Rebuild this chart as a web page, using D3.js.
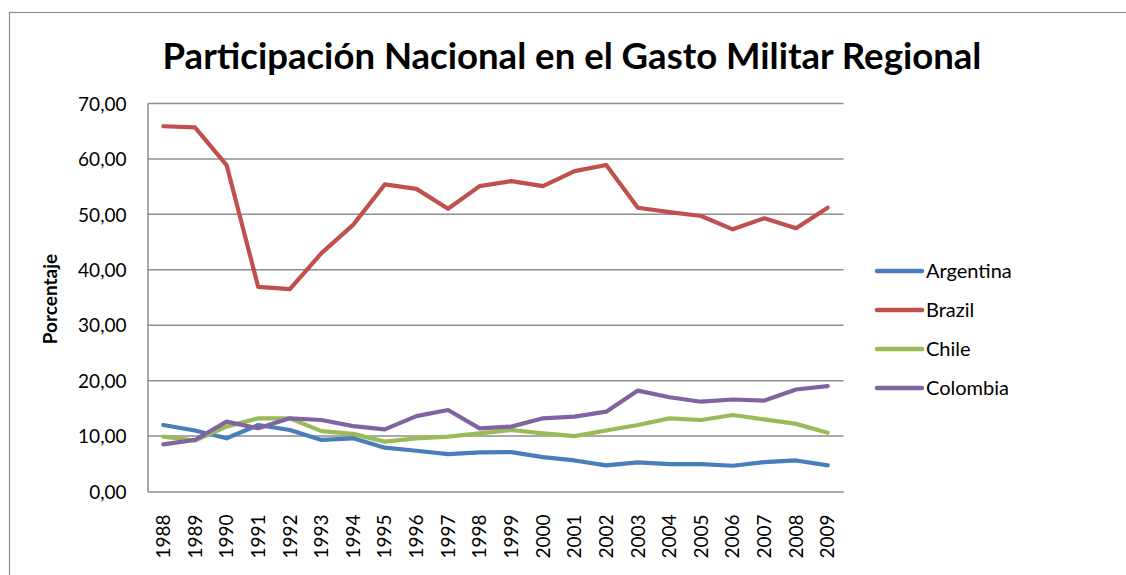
<!DOCTYPE html>
<html>
<head>
<meta charset="utf-8">
<script src="https://cdn.jsdelivr.net/npm/d3@7"></script>
<style>
  body { margin: 0; background: #fff; }
  text { font-family: Lato, "Open Sans", sans-serif; fill: #000; }
</style>
</head>
<body>
<script>
// data
var years = ["1988","1989","1990","1991","1992","1993","1994","1995","1996","1997","1998",
             "1999","2000","2001","2002","2003","2004","2005","2006","2007","2008","2009"];

var argentina = [12.0,11.0,9.6,12.0,11.1,9.3,9.6,7.9,7.35,6.75,7.05,
                 7.1,6.2,5.6,4.7,5.25,4.95,4.95,4.65,5.3,5.6,4.7];
var brazil    = [65.9,65.7,58.9,36.9,36.5,43.0,48.1,55.4,54.6,51.0,55.1,
                 56.0,55.1,57.8,58.9,51.2,50.4,49.7,47.3,49.3,47.5,51.2];
var chile     = [9.9,9.2,11.7,13.2,13.2,10.9,10.4,9.0,9.6,9.9,10.5,
                 11.1,10.5,10.0,11.0,12.0,13.2,12.9,13.8,13.0,12.2,10.6];
var colombia  = [8.5,9.3,12.6,11.4,13.2,12.9,11.8,11.2,13.6,14.7,11.4,
                 11.7,13.2,13.5,14.4,18.2,17.0,16.2,16.6,16.4,18.4,19.0];

var seriesNames = ["Argentina", "Brazil", "Chile", "Colombia"];
var seriesColors = ["#4A7EBB", "#C0504D", "#9BBB59", "#8064A2"];
var yTicks = [0, 10, 20, 30, 40, 50, 60, 70];

var series = [argentina, brazil, chile, colombia].map(function(vals, i){
  return { name: seriesNames[i], color: seriesColors[i], values: vals };
});

//Width and height
var width = 1126;
var height = 575;
var plot = { left: 147.5, right: 843.5, top: 103.5, bottom: 491.5 };

var svg = d3.select("body").append("svg")
  .attr("width", width)
  .attr("height", height);

//outer chart frame
svg.append("rect")
  .attr("x", 9.5).attr("y", 12.5)
  .attr("width", width + 20).attr("height", height + 20)
  .attr("fill", "none")
  .attr("stroke", "#8c8c8c")
  .attr("stroke-width", 1.2);

var x = d3.scaleBand().domain(years).range([plot.left, plot.right]);
var y = d3.scaleLinear().domain([0, 70]).range([plot.bottom, plot.top]);

//gridlines
svg.append("g")
  .selectAll("line")
  .data(yTicks.filter(function(d){ return d > 0; }))
  .enter().append("line")
  .attr("x1", plot.left).attr("x2", plot.right)
  .attr("y1", function(d){ return y(d); })
  .attr("y2", function(d){ return y(d); })
  .attr("stroke", "#8e8e8e")
  .attr("stroke-width", 1.5);

//y axis
var yAxis = svg.append("g")
  .attr("transform", "translate(" + plot.left + ",0)")
  .call(d3.axisLeft(y).tickValues(yTicks).tickSize(0).tickPadding(21)
    .tickFormat(function(d){ return d3.format(".2f")(d).replace(".", ","); }));
yAxis.select(".domain").attr("stroke", "#8e8e8e").attr("stroke-width", 1.5);
yAxis.selectAll("text").style("font-size", "19px").attr("dy", "0.35em");

//x axis
var xAxis = svg.append("g")
  .attr("transform", "translate(0," + plot.bottom + ")")
  .call(d3.axisBottom(x).tickSize(0).tickSizeOuter(0));
xAxis.select(".domain").attr("stroke", "#8e8e8e").attr("stroke-width", 1.5);
xAxis.selectAll("text")
  .style("font-size", "19px")
  .attr("text-anchor", "end")
  .attr("transform", "rotate(-90)")
  .attr("x", -23)
  .attr("y", 0)
  .attr("dy", "0.35em");

//lines
var line = d3.line()
  .x(function(d, i){ return x(years[i]) + x.bandwidth() / 2; })
  .y(function(d){ return y(d); });

svg.append("g")
  .selectAll("path")
  .data(series)
  .enter().append("path")
  .attr("d", function(d){ return line(d.values); })
  .attr("fill", "none")
  .attr("stroke", function(d){ return d.color; })
  .attr("stroke-width", 4.2)
  .attr("stroke-linecap", "round")
  .attr("stroke-linejoin", "round");

//title, fitted to the reference width
var title = svg.append("text")
  .attr("x", 572).attr("y", 69)
  .attr("text-anchor", "middle")
  .style("font-weight", "bold")
  .style("font-size", "34px")
  .text("Participación Nacional en el Gasto Militar Regional");
var tw = title.node().getComputedTextLength();
title.style("font-size", (34 * 819 / tw) + "px");

//y axis title
svg.append("text")
  .attr("transform", "translate(57,299) rotate(-90)")
  .attr("text-anchor", "middle")
  .style("font-weight", "bold")
  .style("font-size", "19px")
  .text("Porcentaje");

//legend
var legend = svg.append("g")
  .selectAll("g")
  .data(series)
  .enter().append("g")
  .attr("transform", function(d, i){ return "translate(877," + (271 + i * 39) + ")"; });

legend.append("line")
  .attr("x1", 0).attr("x2", 45)
  .attr("stroke", function(d){ return d.color; })
  .attr("stroke-width", 4.5)
  .attr("stroke-linecap", "round");

legend.append("text")
  .attr("x", 49)
  .attr("dy", "0.35em")
  .style("font-size", "20px")
  .text(function(d){ return d.name; });
</script>
</body>
</html>
